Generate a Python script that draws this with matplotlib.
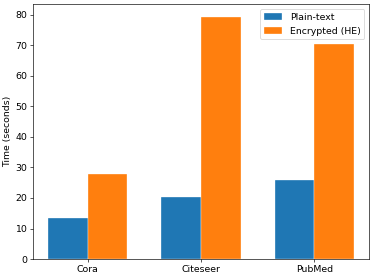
import numpy as np
import matplotlib
matplotlib.use('Agg')
import matplotlib.pyplot as plt

# ---- datos
datasets = ['Cora', 'Citeseer', 'PubMed']
plain_text = [13.3, 20.3, 25.8]
encrypted = [27.7, 79.3, 70.3]

dpi = 58.4
plt.rcParams['font.size'] = 11.5
fig = plt.figure(figsize=(374 / dpi, 278 / dpi), dpi=dpi)
ax = fig.add_subplot(111)
fig.subplots_adjust(left=0.088, right=0.987, top=0.984, bottom=0.068)

x = np.arange(len(datasets))
width = 0.35

ax.bar(x - width / 2, plain_text, width, label='Plain-text',
       edgecolor='white', linewidth=0.4)
ax.bar(x + width / 2, encrypted, width, label='Encrypted (HE)',
       edgecolor='white', linewidth=0.4)

ax.set_ylabel('Time (seconds)')
ax.set_xticks(x)
ax.set_xticklabels(datasets)
ax.set_ylim(0, 83.3)
ax.legend(loc='upper right')

fig.savefig('out.png', dpi=dpi)
